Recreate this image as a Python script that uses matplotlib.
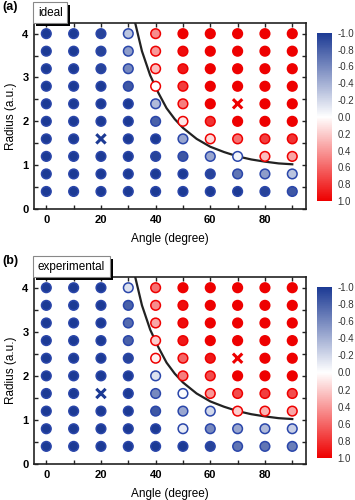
import numpy as np
import matplotlib
matplotlib.use("Agg")
import matplotlib.pyplot as plt
import matplotlib.patheffects as pe
from matplotlib.colors import LinearSegmentedColormap

plt.rcParams['font.family'] = ['Liberation Sans', 'DejaVu Sans']
plt.rcParams['axes.unicode_minus'] = False

# ---------------------------------------------------------
# Data: rows from R=4.0 (top) down to R=0.4, columns angle 0..90
# nan = position taken by a cross marker
# ---------------------------------------------------------
angles = [0, 10, 20, 30, 40, 50, 60, 70, 80, 90]
radii = [4.0, 3.6, 3.2, 2.8, 2.4, 2.0, 1.6, 1.2, 0.8, 0.4]
nan = np.nan

ideal = [
    [-1, -1, -0.95, -0.30, 0.45, 1.00, 1.00, 1.00, 1.00, 1.00],
    [-1, -1, -0.95, -0.50, 0.40, 0.95, 1.00, 1.00, 1.00, 1.00],
    [-1, -1, -0.95, -0.60, 0.25, 0.90, 1.00, 1.00, 1.00, 1.00],
    [-1, -1, -1.00, -0.85, 0.00, 0.75, 1.00, 1.00, 1.00, 1.00],
    [-1, -1, -1.00, -1.00, -0.35, 0.50, 1.00, nan, 1.00, 1.00],
    [-1, -1, -1.00, -1.00, -0.80, 0.10, 0.80, 1.00, 1.00, 1.00],
    [-1, -1, nan, -1.00, -1.00, -0.45, 0.15, 0.55, 0.75, 0.80],
    [-1, -1, -1.00, -1.00, -0.95, -0.85, -0.45, -0.05, 0.25, 0.35],
    [-1, -1, -1.00, -1.00, -1.00, -1.00, -0.95, -0.70, -0.50, -0.30],
    [-1, -1, -1.00, -1.00, -1.00, -1.00, -1.00, -1.00, -0.95, -0.85],
]

experimental = [
    [-1, -1, -1.00, -0.15, 0.55, 1.00, 1.00, 1.00, 1.00, 1.00],
    [-1, -1, -1.00, -0.80, 0.45, 0.95, 1.00, 1.00, 1.00, 1.00],
    [-1, -1, -1.00, -0.75, 0.35, 0.95, 1.00, 1.00, 1.00, 1.00],
    [-1, -1, -1.00, -0.80, 0.20, 0.90, 1.00, 1.00, 1.00, 1.00],
    [-1, -1, -1.00, -0.95, 0.05, 0.60, 0.90, nan, 1.00, 1.00],
    [-1, -1, -1.00, -1.00, -0.15, 0.50, 0.70, 1.00, 1.00, 1.00],
    [-1, -1, nan, -1.00, -0.60, -0.02, 0.40, 0.70, 0.75, 0.70],
    [-1, -1, -1.00, -1.00, -0.85, -0.45, -0.20, 0.20, 0.30, 0.35],
    [-1, -1, -1.00, -1.00, -1.00, -0.10, -0.60, -0.45, -0.35, -0.25],
    [-1, -1, -1.00, -1.00, -1.00, -1.00, -0.95, -0.70, -0.70, -0.65],
]

# cross markers (angle, radius)
cross_angle = [20, 70]
cross_radius = [1.6, 2.4]
cross_color = ['#1c3a94', '#ee0000']

# boundary curve
curve_angle = [32.5, 35, 38, 41, 44, 47, 50, 55, 60, 65, 70, 75, 80, 85, 90]
curve_radius = [4.25, 3.6, 3.05, 2.65, 2.3, 2.05, 1.85, 1.6, 1.42, 1.3, 1.2, 1.13, 1.08, 1.04, 1.02]

BLUE = '#1c3a94'
RED = '#ee0000'
cmap = LinearSegmentedColormap.from_list('bwr2', [BLUE, '#ffffff', RED])


def draw_panel(fig, rect, cbar_rect, values, tag, name):
    ax = fig.add_axes(rect)
    vals = np.array(values, dtype=float)
    X, Y = np.meshgrid(angles, radii)
    mask = ~np.isnan(vals)
    v = vals[mask]
    edges = [RED if val >= 0 else '#2a46aa' for val in v]
    sc = ax.scatter(X[mask], Y[mask], c=v, cmap=cmap, vmin=-1, vmax=1, s=48,
                    edgecolors=edges, linewidths=1.1, zorder=3)
    ax.scatter(cross_angle, cross_radius, marker='x', s=45, c=cross_color,
               linewidths=2.2, zorder=3)
    ax.plot(curve_angle, curve_radius, color='#222222', lw=1.6, zorder=2)

    ax.set_xlim(-4.5, 95)
    ax.set_ylim(0, 4.25)
    ax.set_xticks([0, 20, 40, 60, 80])
    ax.set_xticks([10, 30, 50, 70, 90], minor=True)
    ax.set_yticks([0, 1, 2, 3, 4])
    ax.set_yticks([0.5, 1.5, 2.5, 3.5], minor=True)
    ax.tick_params(which='both', direction='in', top=True, right=True,
                   length=3, width=1, labelsize=8, color='#222222', pad=4)
    for lbl in ax.get_xticklabels() + ax.get_yticklabels():
        lbl.set_fontweight('bold')
    for s in ax.spines.values():
        s.set_linewidth(1.2)
        s.set_color('#222222')
    ax.set_xlabel('Angle (degree)', fontsize=8.5, labelpad=6)
    ax.set_ylabel('Radius (a.u.)', fontsize=8.5, labelpad=4)

    # panel name box with drop shadow
    t = ax.text(0.014, 1.022, name, transform=ax.transAxes, fontsize=8.5,
                va='bottom', ha='left',
                bbox=dict(boxstyle='square,pad=0.38', fc='white', ec='#888888', lw=0.8))
    t.get_bbox_patch().set_path_effects([
        pe.SimplePatchShadow(offset=(2.2, -2.2), shadow_rgbFace='black', alpha=1.0),
        pe.Normal()])

    fig.text(0.006, rect[1] + rect[3] + 0.02, tag, fontsize=9, fontweight='bold',
             va='bottom', ha='left')

    cax = fig.add_axes(cbar_rect)
    cb = fig.colorbar(sc, cax=cax)
    cb.set_ticks([-1.0, -0.8, -0.6, -0.4, -0.2, 0.0, 0.2, 0.4, 0.6, 0.8, 1.0])
    cb.ax.set_yticklabels(['%.1f' % t for t in
                           [-1.0, -0.8, -0.6, -0.4, -0.2, 0.0, 0.2, 0.4, 0.6, 0.8, 1.0]])
    cax.invert_yaxis()
    cb.outline.set_visible(False)
    cax.tick_params(length=0, labelsize=7, colors='#333333', pad=4)
    return ax


fig = plt.figure(figsize=(3.55, 5.0), dpi=100)
draw_panel(fig, [0.0958, 0.582, 0.766, 0.3726], [0.893, 0.598, 0.042, 0.3366],
           ideal, '(a)', 'ideal')
draw_panel(fig, [0.0958, 0.072, 0.766, 0.3746], [0.893, 0.084, 0.042, 0.342],
           experimental, '(b)', 'experimental')

fig.savefig('out.png', dpi=100)
